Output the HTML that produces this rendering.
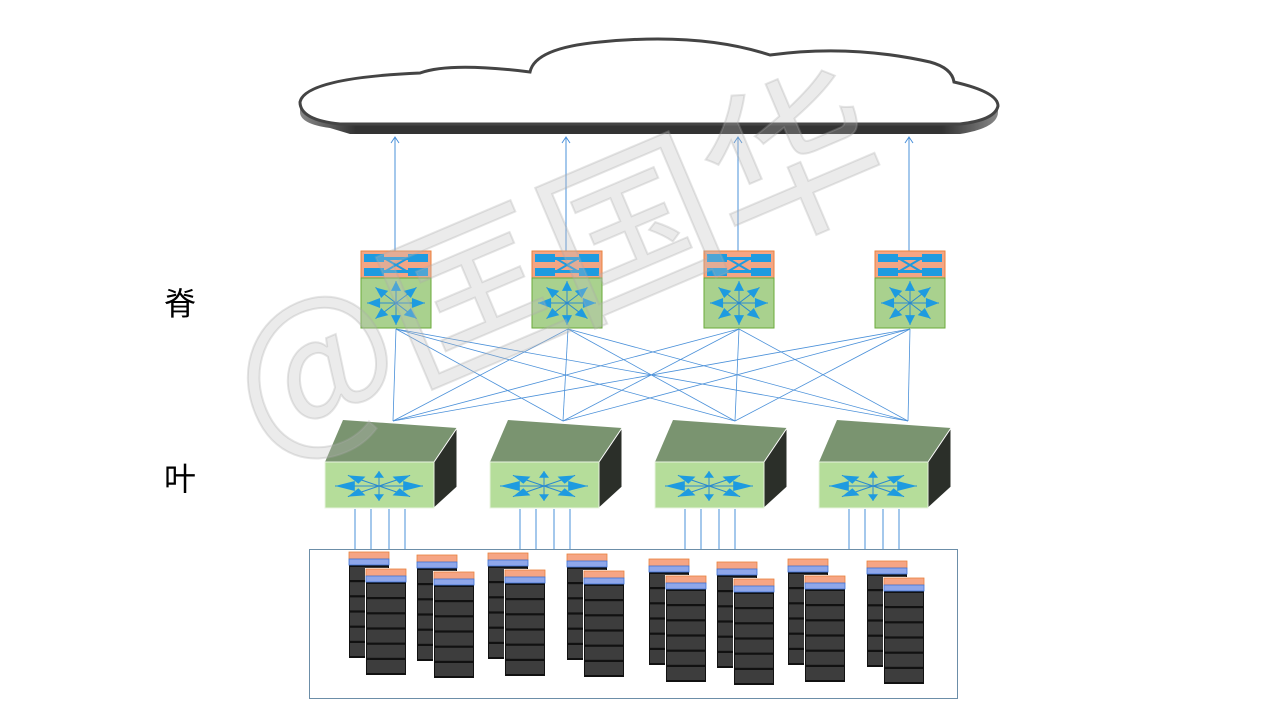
<!DOCTYPE html>
<html><head><meta charset="utf-8"><style>
html,body{margin:0;padding:0;background:#fff;}
svg{display:block;}
</style></head><body>
<svg id="s" width="1280" height="720" viewBox="0 0 1280 720" xmlns="http://www.w3.org/2000/svg">
<defs>
<marker id="ar" markerWidth="12" markerHeight="12" refX="9" refY="5" orient="auto" markerUnits="userSpaceOnUse">
<path d="M3,1 L9,5 L3,9" fill="none" stroke="#4a90d9" stroke-width="1"/>
</marker>
<linearGradient id="band" x1="0" x2="1" y1="0" y2="0">
<stop offset="0" stop-color="#888"/><stop offset="0.08" stop-color="#333"/><stop offset="0.92" stop-color="#333"/><stop offset="1" stop-color="#888"/>
</linearGradient>
</defs>
<path d="M300,100 L300,112 Q300,124 330,128 L350,134 L960,134 Q998,128 998,112 L998,100 Z" fill="url(#band)"/>
<path d="M300,102 Q305,78 420,73 Q450,62 530,72 Q535,48 600,42 Q700,32 770,55 Q850,44 930,62 Q952,68 954,82 Q998,92 998,106 Q995,120 960,124 L340,124 Q300,120 300,102 Z" fill="#fff" stroke="#444" stroke-width="3"/>
<text x="180" y="315" font-family="'Liberation Sans','Noto Sans CJK SC',sans-serif" font-size="32" text-anchor="middle">脊</text>
<text x="180" y="490" font-family="'Liberation Sans','Noto Sans CJK SC',sans-serif" font-size="32" text-anchor="middle">叶</text>
<rect x="309.5" y="549.5" width="648" height="149" fill="none" stroke="#6c8ea8" stroke-width="1"/>
<g id="g"></g>
<text x="0" y="0" transform="translate(580,320) rotate(-23)" font-family="'Noto Sans CJK SC',sans-serif" font-size="175" text-anchor="middle" fill="rgba(190,190,190,0.3)" stroke="rgba(170,170,170,0.3)" stroke-width="2">@匡国华</text>
</svg>
<script>
var g=document.getElementById('g'),h='';
var spX=[361,532,704,875], spB=[396,568,739,910], lfT=[393,563,735,908], lfX=[325,490,655,819];
for(var i=0;i<4;i++)for(var j=0;j<4;j++)h+='<line x1="'+spB[i]+'" y1="329" x2="'+lfT[j]+'" y2="421" stroke="#4a90d9" stroke-width="0.8"/>';
for(var i=0;i<4;i++)h+='<line x1="'+(spX[i]+34)+'" y1="262" x2="'+(spX[i]+34)+'" y2="137" stroke="#4a90d9" stroke-width="1" marker-end="url(#ar)"/>';
function star(cx,cy,rx,ry){var s='';for(var k=0;k<8;k++){var a=k*Math.PI/4,x=cx+Math.cos(a)*rx,y=cy+Math.sin(a)*ry,
px=-Math.sin(a),py=Math.cos(a),bx=cx+Math.cos(a)*rx*0.55,by=cy+Math.sin(a)*ry*0.55;
s+='<line x1="'+cx+'" y1="'+cy+'" x2="'+x+'" y2="'+y+'" stroke="#2a8ad0" stroke-width="1"/>';
s+='<polygon points="'+x+','+y+' '+(bx+px*5)+','+(by+py*5)+' '+(bx-px*5)+','+(by-py*5)+'" fill="#1e9be0"/>';}return s;}
for(var i=0;i<4;i++){var x=spX[i];
h+='<rect x="'+x+'" y="251" width="70" height="27" fill="#f4a584" stroke="#e9823e"/>';
h+='<rect x="'+(x+3)+'" y="254" width="20" height="8" fill="#1e9be0"/><rect x="'+(x+47)+'" y="254" width="20" height="8" fill="#1e9be0"/>';
h+='<rect x="'+(x+3)+'" y="268" width="20" height="8" fill="#1e9be0"/><rect x="'+(x+47)+'" y="268" width="20" height="8" fill="#1e9be0"/>';
h+='<path d="M'+(x+23)+',258 L'+(x+47)+',272 M'+(x+23)+',272 L'+(x+47)+',258" stroke="#1e9be0" stroke-width="2"/>';
h+='<rect x="'+(x+23)+'" y="257" width="24" height="3" fill="#1e9be0"/><rect x="'+(x+23)+'" y="270" width="24" height="3" fill="#1e9be0"/>';
h+='<rect x="'+x+'" y="278" width="70" height="50" fill="#a9d18e" stroke="#6aaa3a"/>';
h+=star(x+35,303,29,22);}
for(var i=0;i<4;i++){var x=lfX[i];
h+='<polygon points="'+(x+18)+',420 '+(x+132)+',428 '+(x+109)+',462 '+x+',462" fill="#7a9470"/>';
h+='<polygon points="'+(x+109)+',462 '+(x+132)+',428 '+(x+132)+',487 '+(x+109)+',508" fill="#2b2f29" stroke="#fff" stroke-width="1"/>';
h+='<rect x="'+x+'" y="462" width="109" height="46" fill="#b5dd9a" stroke="#e8f4df"/>';
h+=star(x+54,486,44,15);
for(var k=0;k<4;k++){var lx=x+30+k*16+(k>1?2:0);h+='<line x1="'+lx+'" y1="509" x2="'+lx+'" y2="549" stroke="#4a90d9" stroke-width="1"/>';}}
function rack(x,y){var s='<rect x="'+x+'" y="'+y+'" width="42" height="108" fill="#fff"/><rect x="'+(x+1)+'" y="'+(y+1)+'" width="40" height="106" fill="#111"/>';
s+='<rect x="'+(x+1)+'" y="'+(y+1)+'" width="40" height="7" fill="#f6a584" stroke="#e9823e" stroke-width="0.8"/>';
s+='<rect x="'+(x+1)+'" y="'+(y+8)+'" width="40" height="6" fill="#8fa7ea" stroke="#3f74d6" stroke-width="0.8"/>';
for(var k=0;k<6;k++)s+='<rect x="'+(x+2)+'" y="'+(y+16+k*15.2)+'" width="38" height="13" fill="#3d3d3d"/>';return s;}
var R=[[348,551],[416,554],[487,552],[566,553],[648,558],[716,561],[787,558],[866,560]];
for(var i=0;i<R.length;i++){h+=rack(R[i][0],R[i][1]);h+=rack(R[i][0]+17,R[i][1]+17);}
g.innerHTML=h;
</script>
</body></html>
